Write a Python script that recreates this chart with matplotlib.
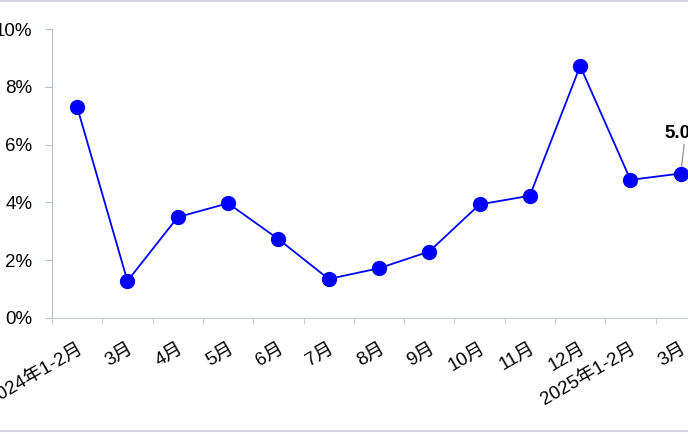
import matplotlib.pyplot as plt
from matplotlib.lines import Line2D
from matplotlib.ticker import FuncFormatter

plt.rcParams['font.family'] = ['Liberation Sans', 'Noto Sans CJK SC', 'DejaVu Sans']

# Month labels and growth values (%)
months = ['2024年1-2月', '3月', '4月', '5月', '6月', '7月', '8月', '9月',
          '10月', '11月', '12月', '2025年1-2月', '3月']
growth = [7.3, 1.28, 3.49, 3.97, 2.73, 1.35, 1.72, 2.3, 3.93, 4.23, 8.72, 4.78, 5.0]

fig = plt.figure(figsize=(6.88, 4.34), dpi=100)
ax = fig.add_axes([52 / 688, 116 / 434, 636 / 688, 289 / 434])

x = list(range(len(months)))
ax.plot(x, growth, color='#0000ff', lw=1.3, marker='o', ms=10, clip_on=False, zorder=3)

ax.set_xlim(-0.5, -0.5 + 636 / 50.3)
ax.set_ylim(0, 10)
ax.set_yticks([0, 2, 4, 6, 8, 10])
ax.yaxis.set_major_formatter(FuncFormatter(lambda v, p: '%d%%' % v))

# category boundaries carry the tick marks, labels sit at centres
ax.set_xticks([i - 0.5 for i in x])
ax.set_xticklabels([])
ax.set_xticks(x, minor=True)
ax.set_xticklabels(months, minor=True, rotation=30, ha='right', rotation_mode='anchor')
ax.tick_params(axis='x', which='minor', length=0, pad=16, labelsize=13.5)
ax.tick_params(axis='x', which='major', length=4, color='#c8ccd8', direction='out')
ax.tick_params(axis='y', length=5, color='#b0c4cc', pad=9, labelsize=13.5)

for s in ['top', 'right']:
    ax.spines[s].set_visible(False)
ax.spines['left'].set_color('#b0c4cc')
ax.spines['bottom'].set_color('#c8ccd8')
ax.spines['bottom'].set_linestyle((0, (2, 1)))

# last value label with leader line
ax.annotate('5.0%', xy=(x[-1], growth[-1]), xytext=(x[-1] - 0.33, 6.4),
            fontsize=13.5, fontweight='bold', ha='left', va='center',
            arrowprops=dict(arrowstyle='-', color='#999999', lw=1, shrinkA=0, shrinkB=5))

# thin frame lines at top and bottom of the image
fig.add_artist(Line2D([0, 1], [0.998, 0.998], color='#d0d0dc', lw=1.5, transform=fig.transFigure))
fig.add_artist(Line2D([0, 1], [0.006, 0.006], color='#d0d0dc', lw=1.5, transform=fig.transFigure))

fig.savefig('out.png', dpi=100)
